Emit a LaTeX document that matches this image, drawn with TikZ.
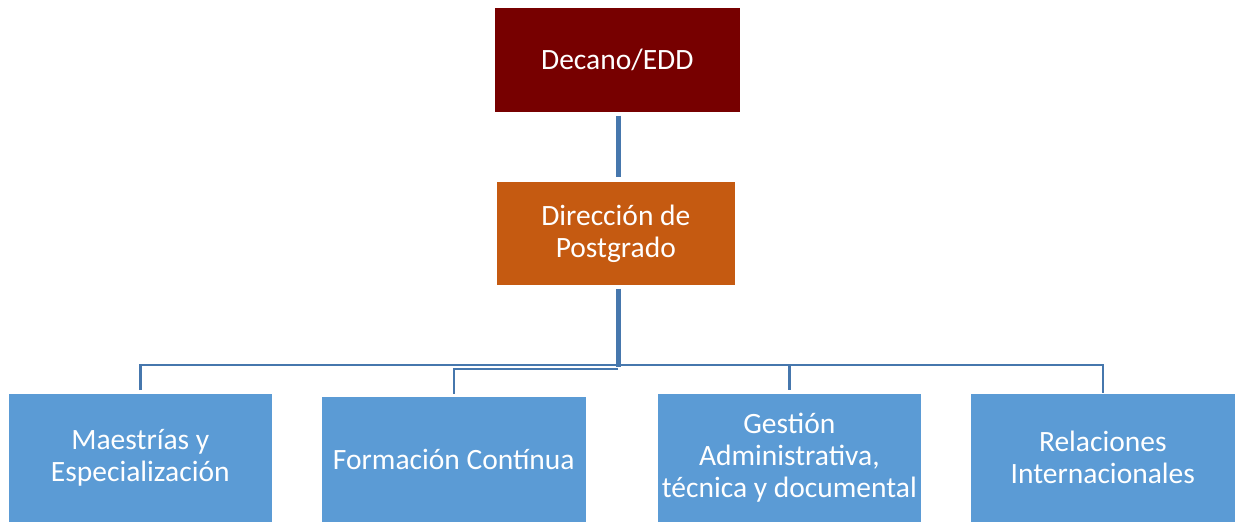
\documentclass[tikz,border=0pt]{standalone}
\usepackage{fontspec}
\setmainfont{Carlito}
\definecolor{decred}{HTML}{770000}
\definecolor{dirorange}{HTML}{C55A11}
\definecolor{unitblue}{HTML}{5B9BD5}
\definecolor{linkblue}{HTML}{4677AD}
\tikzset{
  orgbox/.style={draw=white, line width=0.6pt, text=white, anchor=north west, align=center,
    inner sep=2pt, font=\fontsize{29.5}{32}\selectfont},
  trunk/.style={draw=linkblue, line width=5pt},
  branch/.style={draw=linkblue, line width=2.6pt},
}
\begin{document}
\begin{tikzpicture}[x=1pt,y=-1pt]
\useasboundingbox (0,0) rectangle (1238,522);
\node[orgbox, fill=decred, minimum width=246pt, minimum height=105pt] (dec) at (494,7) {Decano/EDD};
\node[orgbox, fill=dirorange, minimum width=239pt, minimum height=104pt] (dir) at (496,181) {Dirección de\\Postgrado};
\node[orgbox, fill=unitblue, minimum width=264pt, minimum height=129pt] (maes) at (8,393) {Maestrías y\\Especialización};
\node[orgbox, fill=unitblue, minimum width=265pt, minimum height=126pt] (form) at (321,396) {Formación Contínua};
\node[orgbox, fill=unitblue, minimum width=264pt, minimum height=129pt] (gest) at (657,393) {Gestión\\Administrativa,\\técnica y documental};
\node[orgbox, fill=unitblue, minimum width=265pt, minimum height=129pt] (rel) at (970,393) {Relaciones\\Internacionales};
\coordinate (j) at (618,365);
\coordinate (k) at (618,369);
\draw[trunk, shorten <=3pt, shorten >=4pt] (dec.south -| j) -- (dir.north -| j);
\draw[branch, shorten <=3pt] (maes.north) |- (j) -| (rel.north);
\draw[branch, shorten >=3pt] (j) -| (gest.north);
\draw[branch, shorten >=2pt] (k) -| (form.north);
\draw[trunk, shorten <=3pt] (dir.south -| j) -- ([yshift=2pt]k);
\end{tikzpicture}
\end{document}
